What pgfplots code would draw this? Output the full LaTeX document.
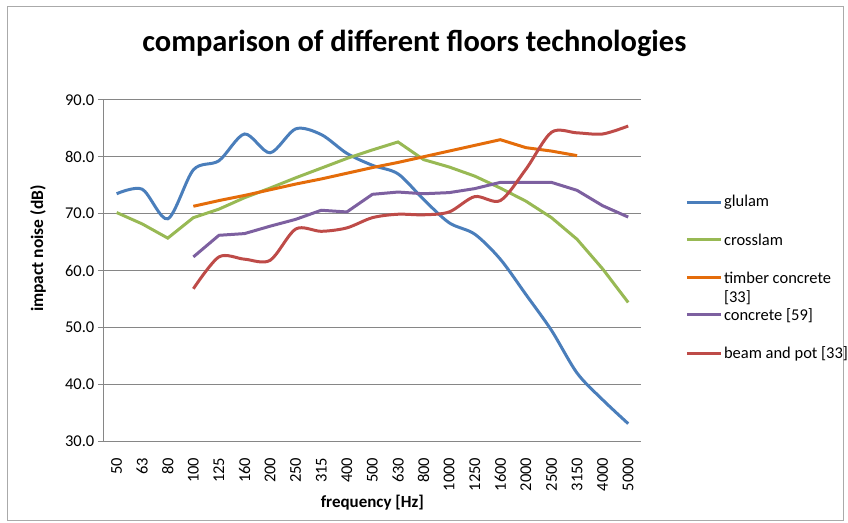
\documentclass[border=0pt]{standalone}
\usepackage{fontspec}
\setmainfont{Carlito}
\usepackage{pgfplots}
\pgfplotsset{compat=1.18}
\definecolor{cGlulam}{HTML}{4A7EBB}
\definecolor{cCross}{HTML}{98B954}
\definecolor{cTimber}{HTML}{E46C0A}
\definecolor{cConc}{HTML}{7D60A0}
\definecolor{cBeam}{HTML}{BE4B48}
\definecolor{cGrid}{HTML}{868686}
\begin{document}
\begin{tikzpicture}[x=1pt,y=1pt]
\path (0,0) rectangle (848,523);
\draw[cGrid!70,line width=0.8pt] (7,2) rectangle (845,517);
\begin{axis}[
  at={(104pt,81pt)}, anchor=south west,
  width=538pt, height=342pt, scale only axis,
  xmin=-0.5, xmax=20.5, ymin=30, ymax=90,
  axis x line*=bottom, axis y line*=left,
  x axis line style={-,cGrid,line width=0.8pt},
  y axis line style={-,cGrid,line width=0.8pt},
  xtick={0,...,20},
  xticklabels={50,63,80,100,125,160,200,250,315,400,500,630,800,1000,1250,1600,2000,2500,3150,4000,5000},
  xticklabel style={yshift=-7pt,rotate=90,anchor=east},
  minor xtick={-0.5,0.5,...,20.5},
  x tick style={draw=none},
  minor x tick style={cGrid,line width=0.8pt},
  minor tick length=6pt,
  ytick={30,40,...,90},
  y tick style={cGrid,line width=0.8pt},
  major tick length=6pt,
  tick align=outside,
  ymajorgrids, grid style={cGrid,line width=0.8pt},
  yticklabel style={/pgf/number format/.cd,fixed,fixed zerofill,precision=1},
  /pgf/number format/assume math mode=true,
  tick label style={font=\fontsize{16.5}{20}\selectfont},
  every axis plot/.append style={line width=3pt},
  clip=false,
]
% glulam
\addplot[cGlulam,smooth,tension=0.5] coordinates {
(0,73.5) (1,74.3) (2,69.1) (3,77.7) (4,79.3) (5,84.0) (6,80.7) (7,84.9)
(8,83.9) (9,80.6) (10,78.5) (11,77.0) (12,72.5) (13,68.4) (14,66.4)
(15,62.0) (16,55.8) (17,49.5) (18,42.0) (19,37.3) (20,33.1)};
% crosslam
\addplot[cCross] coordinates {
(0,70.2) (1,68.2) (2,65.7) (3,69.3) (4,70.8) (5,72.8) (6,74.5) (7,76.3)
(8,78.0) (9,79.7) (10,81.2) (11,82.6) (12,79.5) (13,78.2) (14,76.6)
(15,74.5) (16,72.2) (17,69.3) (18,65.5) (19,60.3) (20,54.4)};
% timber concrete
\addplot[cTimber] coordinates {
(3,71.3) (4,72.3) (5,73.2) (6,74.2) (7,75.2) (8,76.1) (9,77.1) (10,78.1)
(11,79.0) (12,80.0) (13,81.0) (14,82.0) (15,83.0) (16,81.6) (17,81.0) (18,80.2)};
% concrete
\addplot[cConc] coordinates {
(3,62.4) (4,66.2) (5,66.5) (6,67.8) (7,69.0) (8,70.6) (9,70.3) (10,73.4)
(11,73.8) (12,73.5) (13,73.7) (14,74.4) (15,75.5) (16,75.5) (17,75.5)
(18,74.1) (19,71.4) (20,69.4)};
% beam and pot
\addplot[cBeam,smooth,tension=0.5] coordinates {
(3,56.8) (4,62.4) (5,62.0) (6,61.8) (7,67.3) (8,66.9) (9,67.5) (10,69.3)
(11,69.9) (12,69.8) (13,70.3) (14,73.0) (15,72.3) (16,77.8) (17,84.3)
(18,84.2) (19,84.0) (20,85.4)};
\end{axis}
\node[font=\fontsize{30.5}{34}\selectfont\bfseries] at (415,480) {comparison of different floors technologies};
\node[font=\fontsize{17.5}{20}\selectfont\bfseries,rotate=90] at (38,274) {impact noise (dB)};
\node[font=\fontsize{17}{20}\selectfont\bfseries] at (373,20) {frequency [Hz]};
% legend
\begin{scope}[font=\fontsize{16.5}{20}\selectfont]
\draw[cGlulam,line width=3pt] (688,320) -- (722,320);
\node[anchor=west,inner sep=0pt] at (725,320) {glulam};
\draw[cCross,line width=3pt] (688,283) -- (722,283);
\node[anchor=west,inner sep=0pt] at (725,283) {crosslam};
\draw[cTimber,line width=3pt] (688,245) -- (722,245);
\node[anchor=west,inner sep=0pt] at (725,245) {timber concrete};
\node[anchor=west,inner sep=0pt] at (725,225) {[33]};
\draw[cConc,line width=3pt] (688,208) -- (722,208);
\node[anchor=west,inner sep=0pt] at (725,207) {concrete [59]};
\draw[cBeam,line width=3pt] (688,169) -- (722,169);
\node[anchor=west,inner sep=0pt] at (725,169) {beam and pot [33]};
\end{scope}
\end{tikzpicture}
\end{document}
